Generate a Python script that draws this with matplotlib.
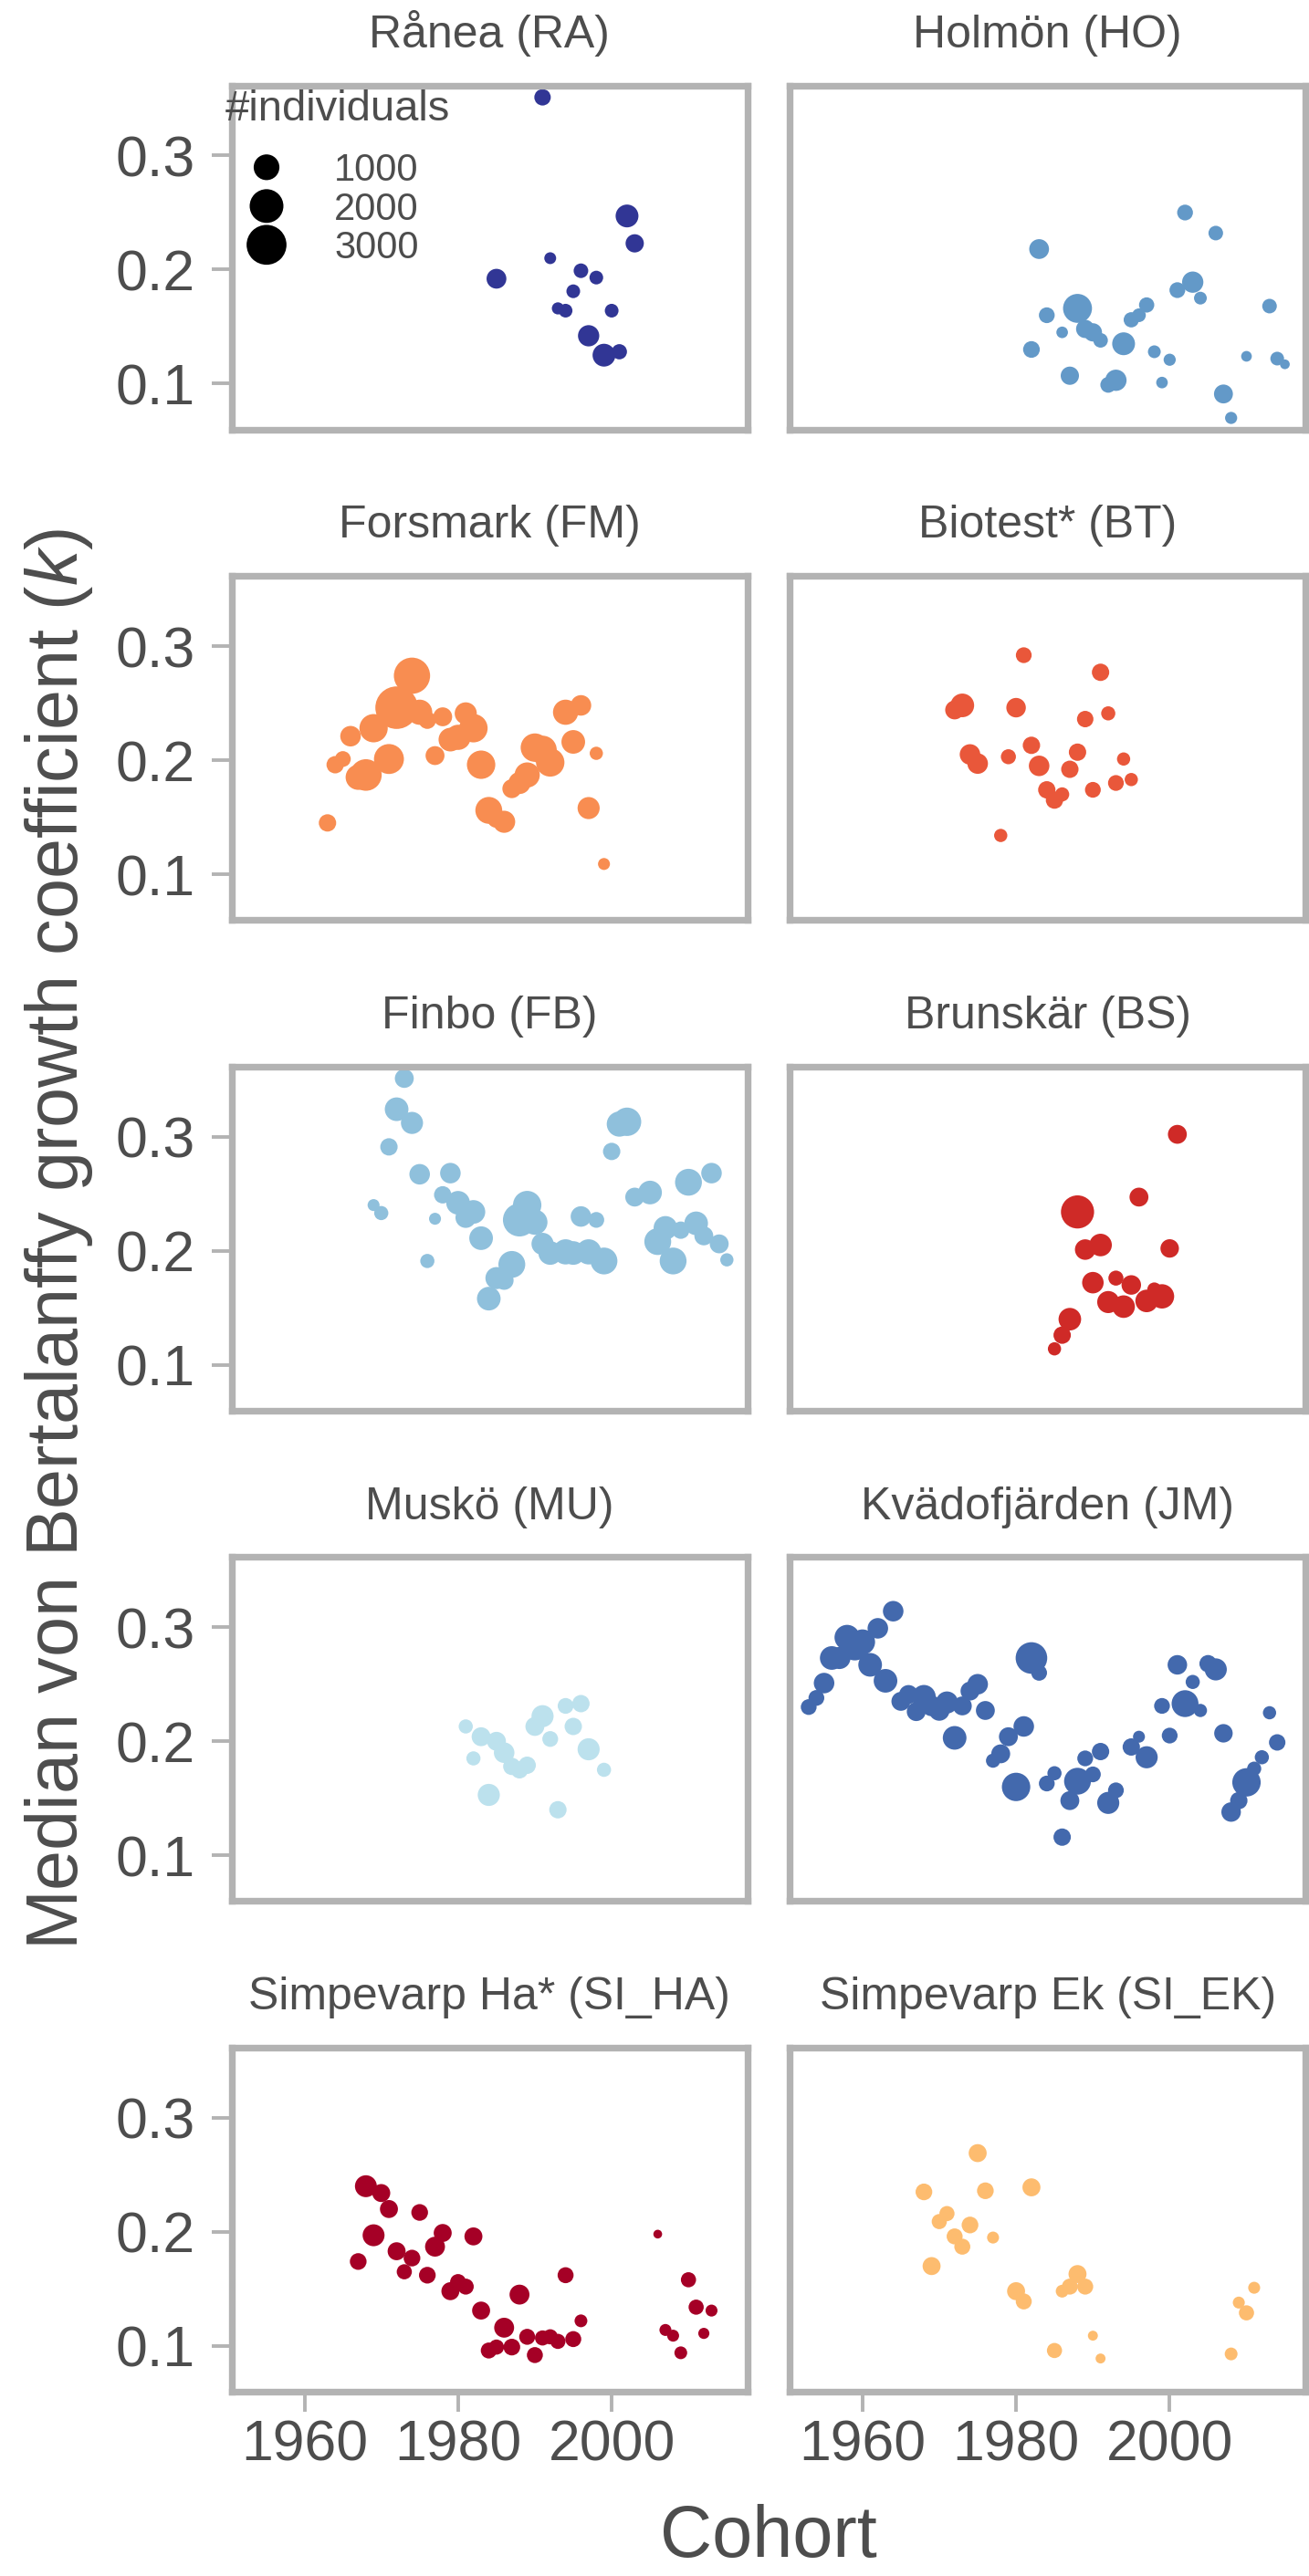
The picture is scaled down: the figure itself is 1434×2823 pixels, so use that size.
import numpy as np
import matplotlib
matplotlib.use("Agg")
import matplotlib.pyplot as plt

plt.rcParams['font.family'] = ['Liberation Sans', 'DejaVu Sans']
plt.rcParams['mathtext.fontset'] = 'custom'
plt.rcParams['mathtext.rm'] = 'Liberation Sans'
plt.rcParams['mathtext.it'] = 'Liberation Sans:italic'

# ---- data: cohort year, median k, number of individuals per station ----
ra_year = [1985, 1991, 1992, 1993, 1994, 1995, 1996, 1997, 1998, 1999, 2000, 2001, 2002, 2003]
ra_k = [0.192, 0.351, 0.210, 0.166, 0.164, 0.181, 0.199, 0.142, 0.193, 0.125, 0.164, 0.128, 0.247, 0.223]
ra_n = [481, 270, 80, 88, 143, 143, 180, 592, 143, 722, 143, 210, 722, 376]

ho_year = [1982, 1983, 1984, 1986, 1987, 1988, 1989, 1990, 1991, 1992, 1993, 1994, 1995, 1996, 1997,
           1998, 1999, 2000, 2001, 2002, 2003, 2004, 2006, 2007, 2008, 2010, 2013, 2014, 2015]
ho_k = [0.130, 0.218, 0.160, 0.145, 0.107, 0.166, 0.148, 0.145, 0.138, 0.099, 0.103, 0.135, 0.156, 0.160, 0.169,
        0.128, 0.101, 0.121, 0.182, 0.250, 0.189, 0.175, 0.232, 0.091, 0.070, 0.124, 0.168, 0.122, 0.117]
ho_n = [284, 481, 236, 72, 376, 1359, 376, 376, 180, 236, 592, 722, 210, 143, 210,
        109, 72, 88, 236, 236, 592, 109, 180, 418, 88, 49, 180, 143, 30]

fm_year = [1963, 1964, 1965, 1966, 1967, 1968, 1969, 1971, 1972, 1974, 1975, 1976, 1977, 1978, 1979, 1980, 1981,
           1982, 1983, 1984, 1985, 1986, 1987, 1988, 1989, 1990, 1991, 1992, 1994, 1995, 1996, 1997, 1998, 1999]
fm_k = [0.145, 0.196, 0.201, 0.221, 0.185, 0.187, 0.228, 0.201, 0.246, 0.274, 0.242, 0.235, 0.204, 0.238, 0.218,
        0.220, 0.241, 0.228, 0.196, 0.156, 0.149, 0.146, 0.175, 0.180, 0.187, 0.211, 0.209, 0.198, 0.242, 0.216,
        0.248, 0.158, 0.206, 0.109]
fm_n = [321, 321, 236, 535, 945, 1697, 1283, 1482, 3493, 2382, 945, 321, 418, 418, 796, 945, 659,
        1294, 1294, 1118, 418, 659, 418, 659, 945, 1294, 1294, 1294, 945, 796, 535, 659, 125, 83]

bt_year = [1972, 1973, 1974, 1975, 1978, 1979, 1980, 1981, 1982, 1983, 1984, 1985, 1986, 1987, 1988,
           1989, 1990, 1991, 1992, 1993, 1994, 1995]
bt_k = [0.244, 0.248, 0.205, 0.197, 0.134, 0.203, 0.246, 0.292, 0.213, 0.195, 0.174, 0.165, 0.170, 0.192, 0.207,
        0.236, 0.174, 0.277, 0.241, 0.180, 0.201, 0.183]
bt_n = [418, 796, 535, 535, 125, 200, 460, 236, 321, 535, 321, 321, 161, 321, 321,
        270, 236, 321, 161, 236, 125, 125]

fb_year = [1969, 1970, 1971, 1972, 1973, 1974, 1975, 1976, 1977, 1978, 1979, 1980, 1981, 1982, 1983, 1984,
           1985, 1986, 1987, 1988, 1989, 1990, 1991, 1992, 1994, 1995, 1996, 1997, 1998, 1999, 2000, 2001,
           2002, 2003, 2005, 2006, 2007, 2008, 2009, 2010, 2011, 2012, 2013, 2014, 2015]
fb_k = [0.240, 0.233, 0.291, 0.324, 0.351, 0.312, 0.267, 0.191, 0.228, 0.249, 0.268, 0.242, 0.229, 0.234, 0.211,
        0.158, 0.176, 0.174, 0.188, 0.227, 0.240, 0.225, 0.206, 0.198, 0.199, 0.198, 0.230, 0.199, 0.227, 0.191,
        0.287, 0.311, 0.313, 0.247, 0.251, 0.208, 0.220, 0.191, 0.218, 0.260, 0.224, 0.213, 0.268, 0.206, 0.192]
fb_n = [83, 161, 321, 796, 418, 659, 535, 161, 83, 321, 535, 796, 535, 796, 796, 796,
        659, 418, 1118, 1912, 1294, 945, 659, 796, 945, 796, 535, 945, 236, 1118, 321, 945,
        1294, 418, 796, 1118, 796, 1118, 321, 1118, 796, 418, 535, 418, 125]

bs_year = [1985, 1986, 1987, 1988, 1989, 1990, 1991, 1992, 1993, 1994, 1995, 1996, 1997, 1998, 1999, 2000, 2001]
bs_k = [0.114, 0.126, 0.140, 0.234, 0.201, 0.172, 0.205, 0.155, 0.176, 0.151, 0.170, 0.247, 0.156, 0.166, 0.160,
        0.202, 0.302]
bs_n = [125, 321, 700, 1912, 535, 610, 700, 659, 200, 700, 460, 418, 700, 161, 860, 390, 418]

mu_year = [1981, 1982, 1983, 1984, 1985, 1986, 1987, 1988, 1989, 1990, 1991, 1992, 1993, 1994, 1995, 1996, 1997, 1999]
mu_k = [0.213, 0.185, 0.204, 0.153, 0.200, 0.190, 0.178, 0.175, 0.179, 0.213, 0.222, 0.202, 0.140, 0.231, 0.213,
        0.233, 0.193, 0.175]
mu_n = [161, 161, 418, 659, 418, 535, 321, 321, 321, 418, 659, 236, 321, 236, 321, 321, 659, 161]

jm_year = [1953, 1954, 1955, 1956, 1957, 1958, 1959, 1960, 1961, 1962, 1963, 1964, 1965, 1966, 1967, 1968,
           1969, 1970, 1971, 1972, 1973, 1974, 1975, 1976, 1977, 1978, 1979, 1980, 1981, 1982, 1983, 1984,
           1985, 1986, 1987, 1988, 1989, 1990, 1991, 1992, 1993, 1995, 1996, 1997, 1999, 2000, 2001, 2002,
           2003, 2004, 2005, 2006, 2007, 2008, 2009, 2010, 2011, 2012, 2013, 2014]
jm_k = [0.230, 0.238, 0.251, 0.273, 0.273, 0.291, 0.284, 0.287, 0.267, 0.299, 0.253, 0.314, 0.235, 0.241, 0.226,
        0.239, 0.231, 0.227, 0.234, 0.203, 0.231, 0.244, 0.250, 0.227, 0.183, 0.189, 0.204, 0.160, 0.213, 0.273,
        0.260, 0.163, 0.172, 0.116, 0.148, 0.165, 0.185, 0.171, 0.191, 0.146, 0.157, 0.195, 0.204, 0.186, 0.231,
        0.205, 0.267, 0.233, 0.252, 0.227, 0.268, 0.263, 0.207, 0.138, 0.148, 0.164, 0.176, 0.186, 0.225, 0.199]
jm_n = [236, 236, 535, 796, 659, 945, 1482, 945, 796, 535, 796, 535, 418, 418, 418, 796,
        535, 535, 659, 796, 418, 418, 535, 418, 161, 418, 418, 1294, 535, 1697, 236, 236,
        161, 321, 418, 1118, 236, 236, 321, 659, 236, 321, 83, 659, 236, 236, 460, 1118,
        161, 125, 321, 659, 390, 460, 321, 1294, 161, 161, 125, 270]

ha_year = [1967, 1968, 1969, 1970, 1971, 1972, 1973, 1974, 1975, 1976, 1977, 1978, 1979, 1980, 1981, 1982,
           1983, 1984, 1985, 1986, 1987, 1988, 1989, 1990, 1991, 1992, 1993, 1994, 1995, 1996, 2006, 2007,
           2008, 2009, 2010, 2011, 2012, 2013]
ha_k = [0.174, 0.240, 0.197, 0.234, 0.220, 0.183, 0.165, 0.177, 0.217, 0.162, 0.187, 0.199, 0.148, 0.156, 0.152,
        0.196, 0.131, 0.096, 0.099, 0.116, 0.099, 0.145, 0.108, 0.092, 0.107, 0.108, 0.104, 0.162, 0.106, 0.122,
        0.198, 0.114, 0.109, 0.094, 0.158, 0.134, 0.111, 0.131]
ha_n = [284, 644, 644, 359, 359, 359, 205, 284, 284, 284, 488, 359, 359, 246, 246, 359,
        359, 246, 205, 488, 284, 488, 246, 246, 205, 205, 205, 246, 246, 109, 15, 83,
        83, 109, 205, 205, 60, 83]

ek_year = [1968, 1969, 1970, 1971, 1972, 1973, 1974, 1975, 1976, 1977, 1980, 1981, 1982, 1985, 1986, 1987,
           1988, 1989, 1990, 1991, 2008, 2009, 2010, 2011]
ek_k = [0.235, 0.170, 0.209, 0.216, 0.196, 0.187, 0.206, 0.269, 0.236, 0.195, 0.148, 0.139, 0.239, 0.096, 0.148,
        0.152, 0.163, 0.152, 0.109, 0.089, 0.093, 0.138, 0.129, 0.151]
ek_n = [284, 359, 205, 205, 246, 246, 284, 359, 284, 83, 359, 246, 359, 205, 109, 246,
        359, 246, 34, 34, 109, 83, 205, 83]

titles = ["Rånea (RA)", "Holmön (HO)", "Forsmark (FM)", "Biotest* (BT)", "Finbo (FB)",
          "Brunskär (BS)", "Muskö (MU)", "Kvädofjärden (JM)", "Simpevarp Ha* (SI_HA)", "Simpevarp Ek (SI_EK)"]
colors = ["#313695", "#6399c8", "#f88d51", "#e9573a", "#8fc0dc",
          "#cf2a27", "#bce1ed", "#4369ad", "#a50026", "#fdbc6f"]
years = [ra_year, ho_year, fm_year, bt_year, fb_year, bs_year, mu_year, jm_year, ha_year, ek_year]
ks = [ra_k, ho_k, fm_k, bt_k, fb_k, bs_k, mu_k, jm_k, ha_k, ek_k]
ns = [ra_n, ho_n, fm_n, bt_n, fb_n, bs_n, mu_n, jm_n, ha_n, ek_n]

legend_n = [1000, 2000, 3000]

W, H, DPI = 1434, 2823, 100
GRAY_TXT = "#4d4d4d"
GRAY_LINE = "#b3b3b3"


def marker_area(n):
    # diameter in pixels grows with sqrt(n), converted to points^2
    d_px = 7 + 0.67 * np.sqrt(np.asarray(n, dtype=float))
    return (d_px * 72 / DPI) ** 2


fig = plt.figure(figsize=(W / DPI, H / DPI), dpi=DPI)

col_x = [253.6, 864.9]
pw, ph = 565.4, 377.0
row_top = [93.5 + 537.6 * i for i in range(5)]

axes = []
for i in range(10):
    r, c = divmod(i, 2)
    ax = fig.add_axes([col_x[c] / W, 1 - (row_top[r] + ph) / H, pw / W, ph / H])
    ax.scatter(years[i], ks[i], s=marker_area(ns[i]), color=colors[i], edgecolors='none', zorder=1)
    ax.set_xlim(1950.5, 2017.7)
    ax.set_ylim(0.060, 0.3615)
    ax.set_xticks([1960, 1980, 2000])
    ax.set_yticks([0.1, 0.2, 0.3])
    ax.set_yticklabels(["0.1", "0.2", "0.3"])
    for sp in ax.spines.values():
        sp.set_color(GRAY_LINE)
        sp.set_linewidth(5.3)
    ax.tick_params(axis='both', length=16, width=2.8, color=GRAY_LINE,
                   labelcolor=GRAY_TXT, labelsize=45)
    ax.tick_params(axis='y', pad=13)
    ax.tick_params(axis='x', pad=5)
    if c == 1:
        ax.tick_params(axis='y', left=False, labelleft=False)
    if r < 4:
        ax.tick_params(axis='x', bottom=False, labelbottom=False)
    ax.set_title(titles[i], fontsize=36, color=GRAY_TXT, pad=30)
    axes.append(ax)

# size legend inside the first panel
ax0 = axes[0]
fig.text(247 / W, 1 - 131.7 / H, "#individuals", fontsize=34, color=GRAY_TXT,
         ha='left', va='baseline')
for j, n in enumerate(legend_n):
    cy = 183.3 + 42.5 * j
    ax0.scatter([292 / W], [1 - cy / H], s=marker_area(n), color='black', edgecolors='none',
                transform=fig.transFigure, clip_on=False, zorder=5)
    fig.text(366 / W, 1 - (cy + 15) / H, str(n), fontsize=30, color=GRAY_TXT,
             ha='left', va='baseline')

fig.text(0.045, 1 - 1358 / H, "Median von Bertalanffy growth coefficient ($\\mathit{k}$)",
         rotation=90, fontsize=57, color=GRAY_TXT, ha='center', va='center')
fig.text(842 / W, 1 - 2802 / H, "Cohort", fontsize=57, color=GRAY_TXT,
         ha='center', va='baseline')

fig.savefig("out.png", dpi=DPI)
